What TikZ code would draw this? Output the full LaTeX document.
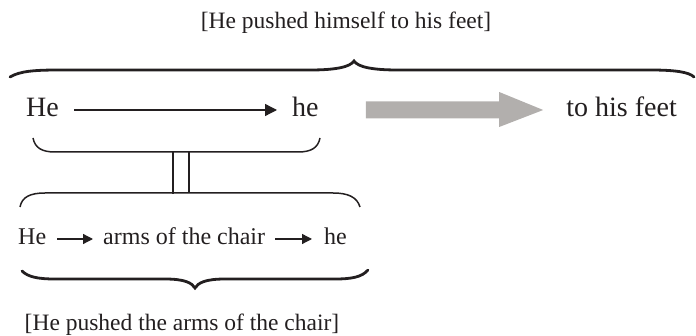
\documentclass[tikz,border=0pt]{standalone}
\usepackage{fontspec}
\setmainfont{Liberation Serif}
\usetikzlibrary{arrows.meta,calc}
\definecolor{ink}{RGB}{35,31,32}
\definecolor{arrowgrey}{RGB}{178,175,173}
\begin{document}
\begin{tikzpicture}[x=1pt,y=-1pt,
  big/.style={font=\fontsize{28}{32}\selectfont, text=ink, inner sep=0pt},
  small/.style={font=\fontsize{24}{28}\selectfont, text=ink, inner sep=0pt},
  caption/.style={font=\fontsize{23.5}{28}\selectfont, text=ink, inner sep=0pt},
  thinarrow/.style={draw=ink, line width=1.3pt, -{Triangle[length=12pt,width=12pt]}},
  shortarrow/.style={draw=ink, line width=1.3pt, -{Triangle[length=10pt,width=10pt]}},
  bracket/.style={draw=ink, line width=1.5pt},
  brace/.style={draw=ink, line width=2.8pt, line cap=round},
  link/.style={draw=ink, line width=1.3pt}]
\useasboundingbox (0,0) rectangle (696,336);

% captions
\node[caption, anchor=base] (top) at (346,29) {[He pushed himself to his feet]};
\node[caption, anchor=base] (bottom) at (182,331) {[He pushed the arms of the chair]};

% main row
\node[big, anchor=base west] (He1) at (26,117) {He};
\node[big, anchor=base west] (he1) at (292,117) {he};
\node[big, anchor=base east] (feet) at (677,117) {to his feet};
\draw[thinarrow] ($(He1.base east)+(15,-7)$) -- ($(he1.base west)+(-15,-7)$);

% broad grey arrow
\coordinate (ga) at ($(he1.base east)+(47,-7)$);
\coordinate (gb) at ($(feet.base west)+(-23,-7)$);
\fill[arrowgrey] ($(ga)+(0,-8.5)$) -- ($(gb)+(-44,-8.5)$) -- ($(gb)+(-44,-18)$) -- (gb)
  -- ($(gb)+(-44,17)$) -- ($(gb)+(-44,8.5)$) -- ($(ga)+(0,8.5)$) -- cycle;

% lower row
\node[small, anchor=base west] (He2) at (18,245) {He};
\node[small, anchor=base west] (arms) at (103,245) {arms of the chair};
\node[small, anchor=base west] (he2) at (324,245) {he};
\draw[shortarrow] ($(He2.base east)+(11,-6)$) -- ($(arms.base west)+(-10,-6)$);
\draw[shortarrow] ($(arms.base east)+(10,-6)$) -- ($(he2.base west)+(-12,-6)$);

% large brace over the whole sentence
\draw[brace] (10,77) .. controls (20,71) and (35,70) .. (60,70) -- (310,70)
  .. controls (336,70) and (350,67) .. (354,61)
  .. controls (358,67) and (372,70) .. (398,70) -- (650,70)
  .. controls (675,70) and (689,72) .. (694,77);

% bracket under the main row
\draw[bracket] (33,138) .. controls (35,148) and (42,152) .. (55,152) -- (298,152)
  .. controls (311,152) and (318,148) .. (320,138);

% bracket over the lower row
\draw[bracket] (20,207) .. controls (22,197) and (30,193) .. (45,193) -- (333,193)
  .. controls (348,193) and (357,197) .. (360,207);

% double link between the two brackets
\coordinate (u) at (181,152);
\coordinate (l) at (181,193);
\draw[link] ($(u)+(-8,0)$) -- ($(l)+(-8,1)$);
\draw[link] ($(u)+(8,0)$) -- ($(l)+(8,0)$);

% brace under the lower row
\draw[brace] (22,271) .. controls (28,277) and (38,279) .. (55,279) -- (165,279)
  .. controls (185,279) and (192,283) .. (195,288)
  .. controls (198,283) and (205,279) .. (225,279) -- (335,279)
  .. controls (352,279) and (362,277) .. (368,270);
\end{tikzpicture}
\end{document}
